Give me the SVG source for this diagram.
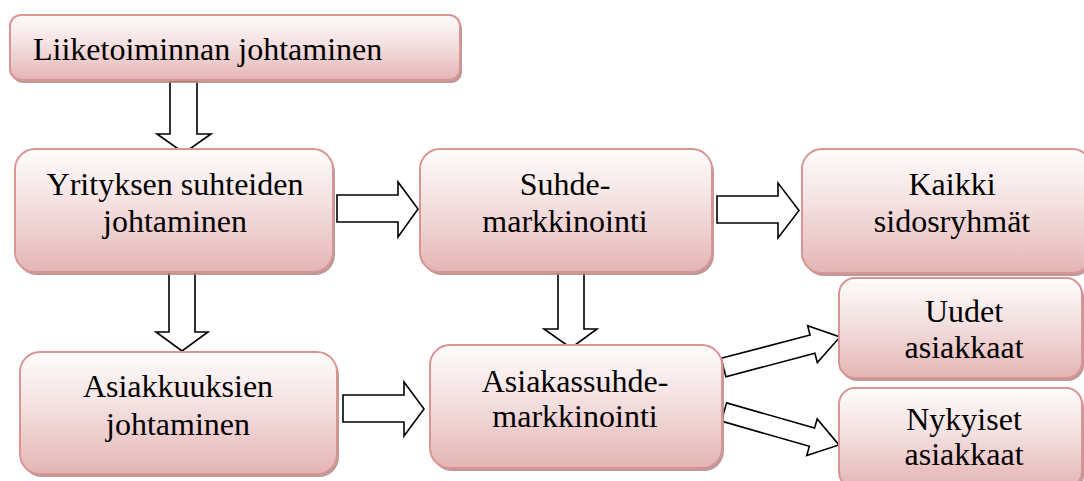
<svg xmlns="http://www.w3.org/2000/svg" width="1084" height="481" viewBox="0 0 1084 481">
<defs>
<linearGradient id="g" x1="0" y1="0" x2="0" y2="1">
<stop offset="0" stop-color="#fefcfc"/>
<stop offset="0.45" stop-color="#f4e0e0"/>
<stop offset="1" stop-color="#e4b5b4"/>
</linearGradient>
<style>
.box{fill:url(#g);stroke:#d99594;stroke-width:2}
.sh{fill:#b08888;opacity:0.85}
.arr{fill:#fff;stroke:#000;stroke-width:1.6;stroke-linejoin:miter}
.t{font-family:'Liberation Serif','Times New Roman','DejaVu Serif',serif;font-size:32px;fill:#000}
.c{text-anchor:middle}
</style>
</defs>
<rect width="1084" height="481" fill="#fff"/>
<g id="connectors">
<polygon class="arr" points="170,81 197,81 197,134 211,134 184,153 157,134 170,134"/>
<polygon class="arr" points="169,272 195,272 195,332 208,332 182,351 156,332 169,332"/>
<polygon class="arr" points="558,272 584,272 584,329 597,329 571,348 544,329 558,329"/>
<polygon class="arr" points="337,195 398,195 398,182 418,209 398,237 398,222 337,222"/>
<polygon class="arr" points="717,196 778,196 778,183 799,210.5 778,238 778,223 717,223"/>
<polygon class="arr" points="343,395 404,395 404,382 424,409 404,436 404,422 343,422"/>
<polygon class="arr" transform="translate(723.5,367.5) rotate(-14.7)" points="0,-9.5 92,-9.5 92,-19 120.4,0 92,19 92,9.5 0,9.5"/>
<polygon class="arr" transform="translate(724,412) rotate(16)" points="0,-9.5 91.5,-9.5 91.5,-19 119.6,0 91.5,19 91.5,9.5 0,9.5"/>
</g>
<g id="n1">
<rect class="sh" x="12" y="18" width="450" height="65" rx="11"/>
<rect class="box" x="10" y="15" width="450" height="65" rx="11"/>
<text class="t" x="33" y="60">Liiketoiminnan johtaminen</text>
</g>
<g id="n2">
<rect class="sh" x="17" y="152" width="318" height="123" rx="20"/>
<rect class="box" x="15" y="149" width="318" height="123" rx="20"/>
<text class="t c" x="175" y="195">Yrityksen suhteiden</text>
<text class="t c" x="175" y="232">johtaminen</text>
</g>
<g id="n3">
<rect class="sh" x="422" y="152" width="292" height="123" rx="20"/>
<rect class="box" x="420" y="149" width="292" height="123" rx="20"/>
<text class="t c" x="565" y="195">Suhde-</text>
<text class="t c" x="565" y="232">markkinointi</text>
</g>
<g id="n4">
<rect class="sh" x="804" y="152" width="290" height="124" rx="20"/>
<rect class="box" x="802" y="149" width="290" height="124" rx="20"/>
<text class="t c" x="952" y="195">Kaikki</text>
<text class="t c" x="952" y="232">sidosryhmät</text>
</g>
<g id="n5">
<rect class="sh" x="22" y="355" width="317" height="122" rx="20"/>
<rect class="box" x="20" y="352" width="317" height="122" rx="20"/>
<text class="t c" x="178" y="397">Asiakkuuksien</text>
<text class="t c" x="178" y="435">johtaminen</text>
</g>
<g id="n6">
<rect class="sh" x="432" y="348" width="292" height="123" rx="20"/>
<rect class="box" x="430" y="345" width="292" height="123" rx="20"/>
<text class="t c" x="575" y="392">Asiakassuhde-</text>
<text class="t c" x="575" y="427">markkinointi</text>
</g>
<g id="n7">
<rect class="sh" x="841" y="281" width="243" height="100" rx="16"/>
<rect class="box" x="839" y="278" width="243" height="100" rx="16"/>
<text class="t c" x="964" y="322">Uudet</text>
<text class="t c" x="964" y="358">asiakkaat</text>
</g>
<g id="n8">
<rect class="sh" x="841" y="391" width="243" height="100" rx="16"/>
<rect class="box" x="839" y="388" width="243" height="100" rx="16"/>
<text class="t c" x="964" y="430">Nykyiset</text>
<text class="t c" x="964" y="465">asiakkaat</text>
</g>
</svg>
